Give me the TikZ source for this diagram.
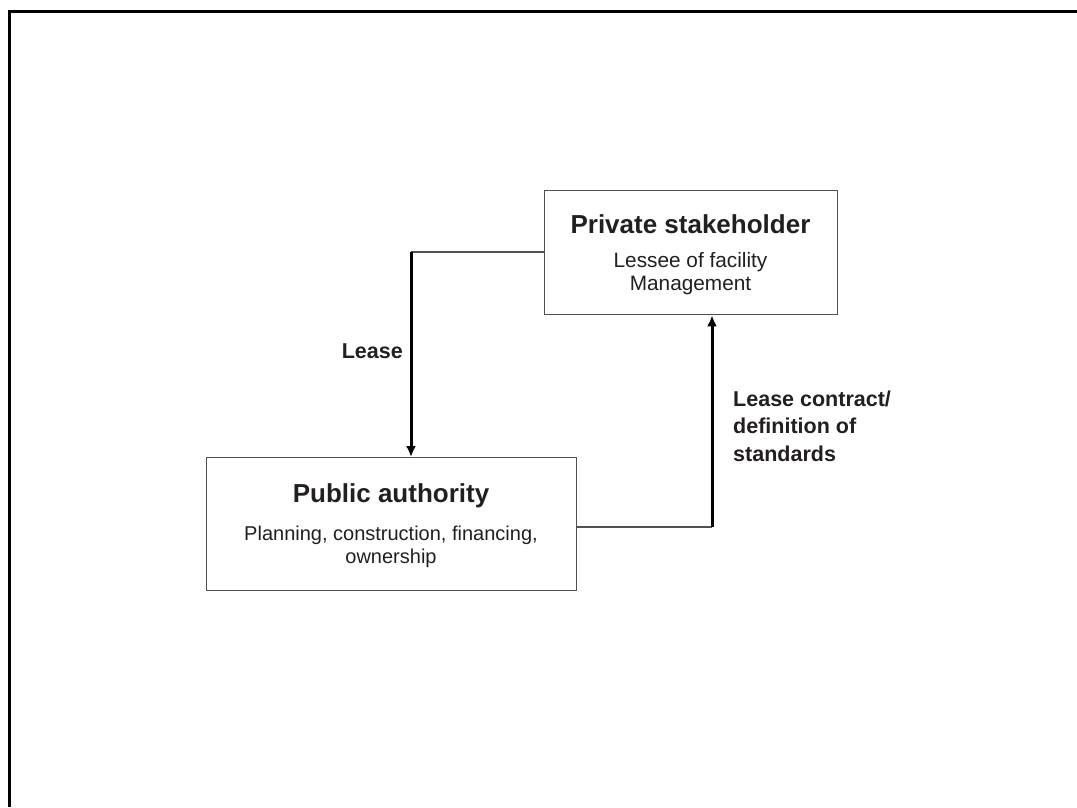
\documentclass[tikz,border=0pt]{standalone}
\usepackage{fontspec}
\setmainfont{Liberation Sans}
\usetikzlibrary{arrows.meta}
\definecolor{ink}{RGB}{35,31,32}
\definecolor{rule}{RGB}{80,80,80}
\begin{document}
\begin{tikzpicture}[x=1pt,y=-1pt,
  box/.style={draw=rule,line width=1.4pt,fill=white,inner sep=0pt,anchor=north west},
  title/.style={font=\fontsize{26}{30}\selectfont\bfseries,text=ink,anchor=base,inner sep=0pt},
  body/.style={font=\fontsize{20}{22.5}\selectfont,text=ink,anchor=base,inner sep=0pt},
  lbl/.style={font=\fontsize{21.5}{27.5}\selectfont\bfseries,text=ink,inner sep=0pt},
  feed/.style={draw=rule,line width=1.4pt},
  flow/.style={draw=black,line width=3pt,-{Latex[length=11pt,width=10pt]}}]
  \useasboundingbox (0,0) rectangle (1077,807);
  % page frame, open to the right and bottom
  \draw[line width=3pt] (9,807) -- (9,11) -- (1077,11);

  % the two parties
  \node[box,minimum width=293pt,minimum height=124pt] (priv) at (544,190) {};
  \node[title] (privt) at (690.5,233.5) {Private stakeholder};
  \node[body,font=\fontsize{20.8}{23}\selectfont] (privb1) at (690.5,267.5) {Lessee of facility};
  \node[body,font=\fontsize{20.8}{23}\selectfont] (privb2) at (690.5,290) {Management};

  \node[box,minimum width=370pt,minimum height=133pt] (pub) at (206,457) {};
  \node[title] (pubt) at (391,502) {Public authority};
  \node[body] (pubb1) at (391,540) {Planning, construction, financing,};
  \node[body] (pubb2) at (391,563) {ownership};

  % lease: private -> public
  \coordinate (lk) at (411,252);
  \draw[feed] (priv.west |- lk) -- (lk);
  \draw[flow] (lk) -- (lk |- pub.north);
  \node[lbl,anchor=base east] (lease) at (403,358) {Lease};

  % lease contract: public -> private
  \coordinate (ck) at (712,527);
  \draw[feed] (pub.east |- ck) -- (ck);
  \draw[flow] (ck) -- (ck |- priv.south);
  \node[lbl,anchor=base west,align=left] (contract) at (733,461)
    {Lease contract/\\definition of\\standards};
\end{tikzpicture}
\end{document}
